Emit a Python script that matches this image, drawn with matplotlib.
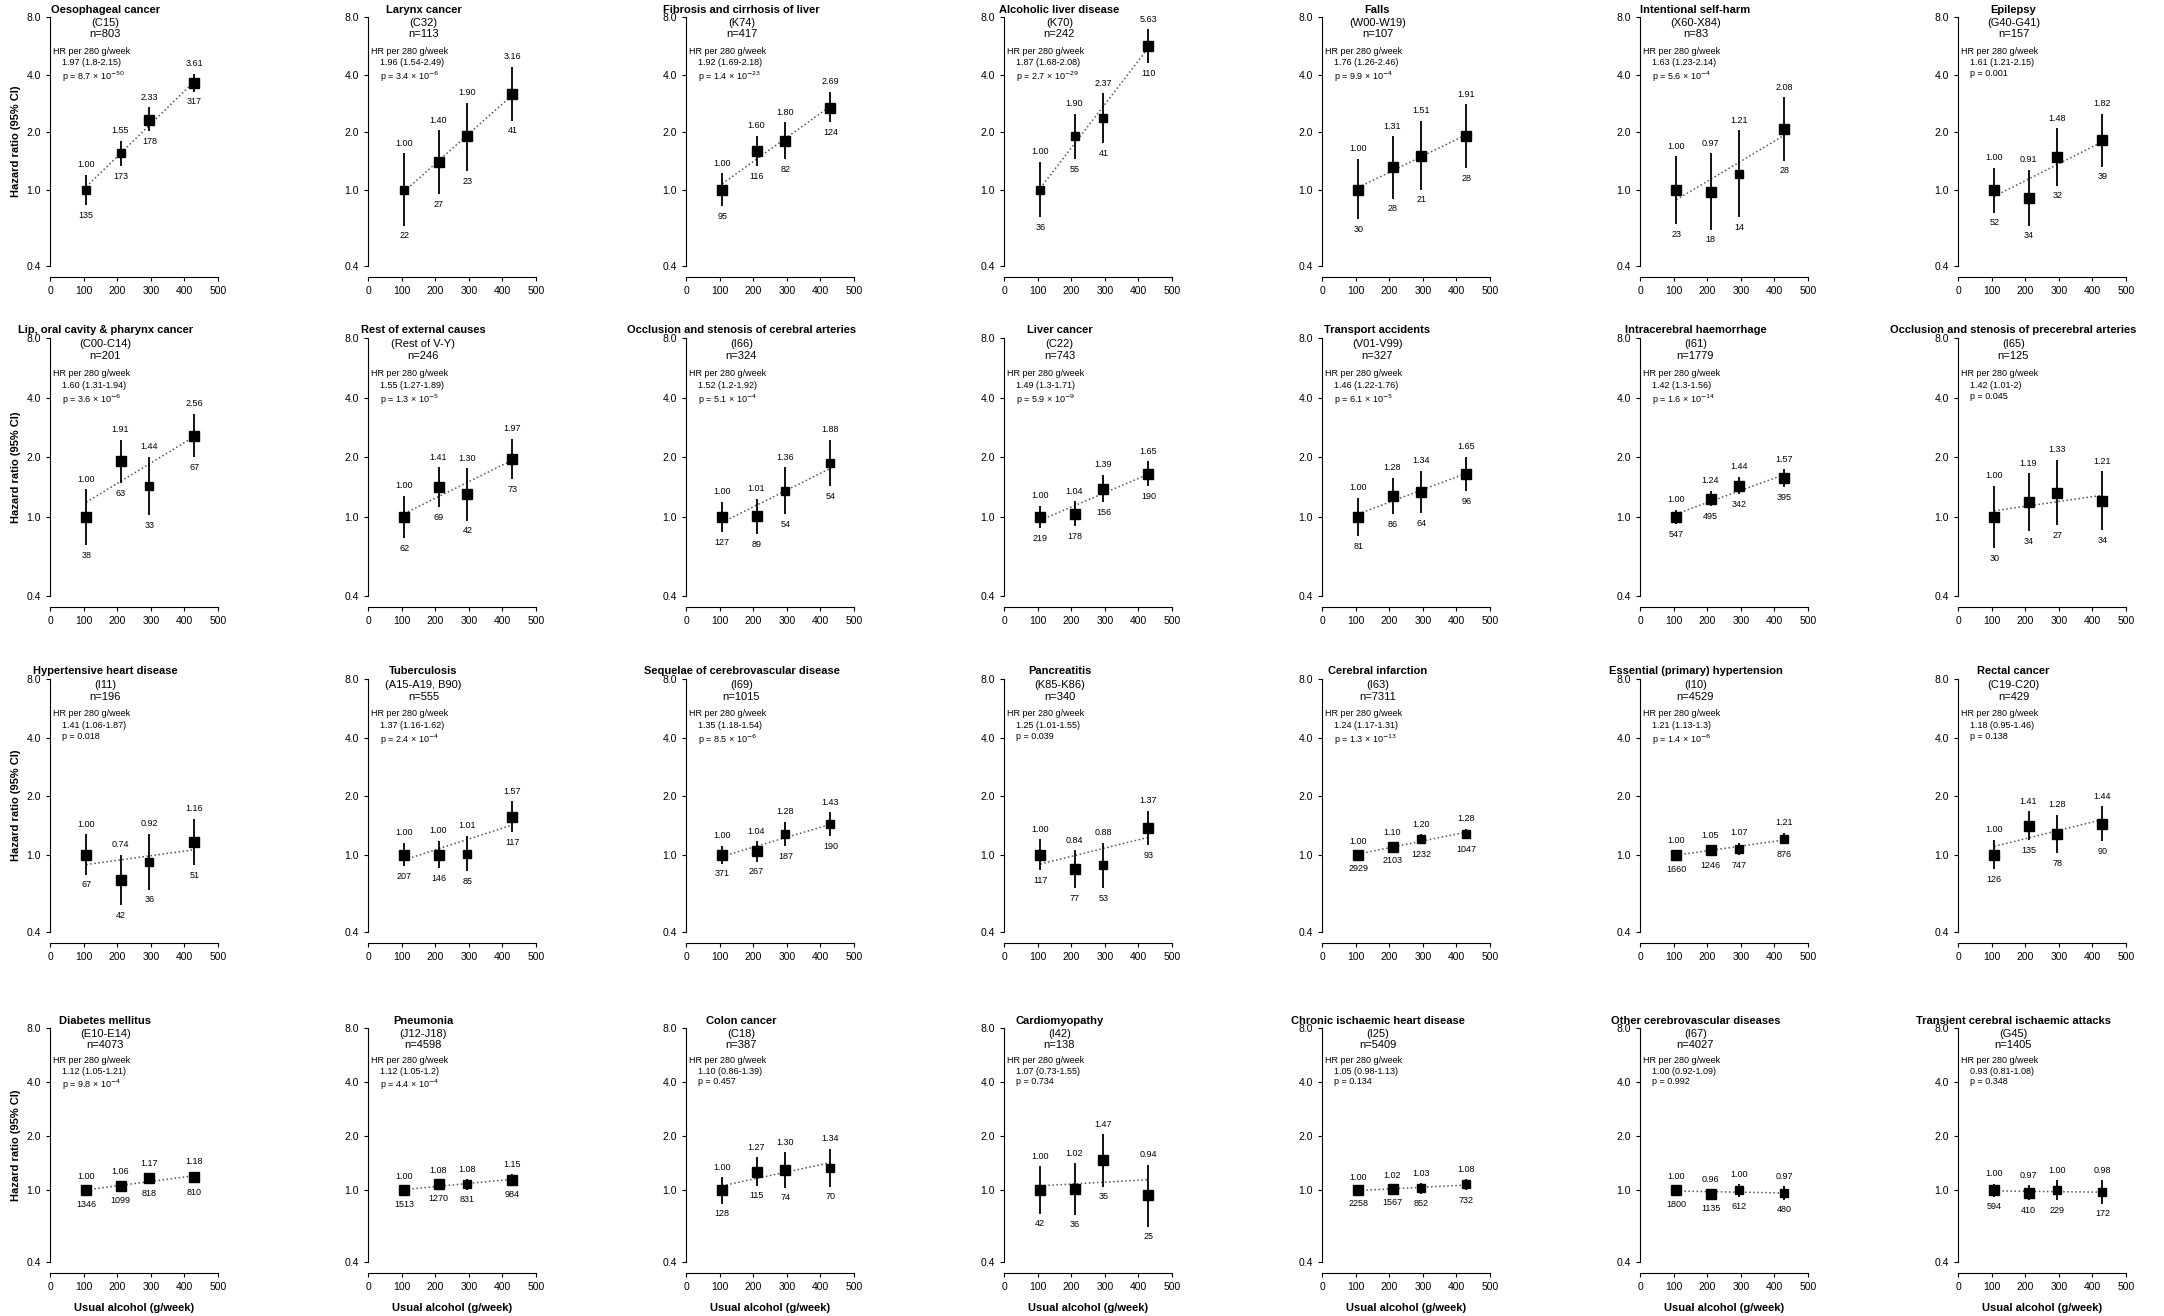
import numpy as np
import matplotlib
matplotlib.use('Agg')
import matplotlib.pyplot as plt

plt.rcParams['font.family'] = ['Liberation Sans', 'DejaVu Sans']

# x positions of the four alcohol groups (g/week)
alcohol = [108, 210, 296, 430]

titles = ['Oesophageal cancer', 'Larynx cancer', 'Fibrosis and cirrhosis of liver', 'Alcoholic liver disease',
          'Falls', 'Intentional self-harm', 'Epilepsy',
          'Lip, oral cavity & pharynx cancer', 'Rest of external causes', 'Occlusion and stenosis of cerebral arteries',
          'Liver cancer', 'Transport accidents', 'Intracerebral haemorrhage', 'Occlusion and stenosis of precerebral arteries',
          'Hypertensive heart disease', 'Tuberculosis', 'Sequelae of cerebrovascular disease', 'Pancreatitis',
          'Cerebral infarction', 'Essential (primary) hypertension', 'Rectal cancer',
          'Diabetes mellitus', 'Pneumonia', 'Colon cancer', 'Cardiomyopathy',
          'Chronic ischaemic heart disease', 'Other cerebrovascular diseases', 'Transient cerebral ischaemic attacks']

codes = ['(C15)', '(C32)', '(K74)', '(K70)', '(W00-W19)', '(X60-X84)', '(G40-G41)',
         '(C00-C14)', '(Rest of V-Y)', '(I66)', '(C22)', '(V01-V99)', '(I61)', '(I65)',
         '(I11)', '(A15-A19, B90)', '(I69)', '(K85-K86)', '(I63)', '(I10)', '(C19-C20)',
         '(E10-E14)', '(J12-J18)', '(C18)', '(I42)', '(I25)', '(I67)', '(G45)']

n_total = [803, 113, 417, 242, 107, 83, 157,
           201, 246, 324, 743, 327, 1779, 125,
           196, 555, 1015, 340, 7311, 4529, 429,
           4073, 4598, 387, 138, 5409, 4027, 1405]

hr_trend = ['1.97 (1.8-2.15)', '1.96 (1.54-2.49)', '1.92 (1.69-2.18)', '1.87 (1.68-2.08)',
            '1.76 (1.26-2.46)', '1.63 (1.23-2.14)', '1.61 (1.21-2.15)',
            '1.60 (1.31-1.94)', '1.55 (1.27-1.89)', '1.52 (1.2-1.92)', '1.49 (1.3-1.71)',
            '1.46 (1.22-1.76)', '1.42 (1.3-1.56)', '1.42 (1.01-2)',
            '1.41 (1.06-1.87)', '1.37 (1.16-1.62)', '1.35 (1.18-1.54)', '1.25 (1.01-1.55)',
            '1.24 (1.17-1.31)', '1.21 (1.13-1.3)', '1.18 (0.95-1.46)',
            '1.12 (1.05-1.21)', '1.12 (1.05-1.2)', '1.10 (0.86-1.39)', '1.07 (0.73-1.55)',
            '1.05 (0.98-1.13)', '1.00 (0.92-1.09)', '0.93 (0.81-1.08)']

p_text = [r'p = 8.7 × 10$^{-50}$', r'p = 3.4 × 10$^{-6}$', r'p = 1.4 × 10$^{-23}$', r'p = 2.7 × 10$^{-29}$',
          r'p = 9.9 × 10$^{-4}$', r'p = 5.6 × 10$^{-4}$', 'p = 0.001',
          r'p = 3.6 × 10$^{-6}$', r'p = 1.3 × 10$^{-5}$', r'p = 5.1 × 10$^{-4}$', r'p = 5.9 × 10$^{-9}$',
          r'p = 6.1 × 10$^{-5}$', r'p = 1.6 × 10$^{-14}$', 'p = 0.045',
          'p = 0.018', r'p = 2.4 × 10$^{-4}$', r'p = 8.5 × 10$^{-6}$', 'p = 0.039',
          r'p = 1.3 × 10$^{-13}$', r'p = 1.4 × 10$^{-6}$', 'p = 0.138',
          r'p = 9.8 × 10$^{-4}$', r'p = 4.4 × 10$^{-4}$', 'p = 0.457', 'p = 0.734',
          'p = 0.134', 'p = 0.992', 'p = 0.348']

hr = [[1.00, 1.55, 2.33, 3.61], [1.00, 1.40, 1.90, 3.16], [1.00, 1.60, 1.80, 2.69], [1.00, 1.90, 2.37, 5.63],
      [1.00, 1.31, 1.51, 1.91], [1.00, 0.97, 1.21, 2.08], [1.00, 0.91, 1.48, 1.82],
      [1.00, 1.91, 1.44, 2.56], [1.00, 1.41, 1.30, 1.97], [1.00, 1.01, 1.36, 1.88], [1.00, 1.04, 1.39, 1.65],
      [1.00, 1.28, 1.34, 1.65], [1.00, 1.24, 1.44, 1.57], [1.00, 1.19, 1.33, 1.21],
      [1.00, 0.74, 0.92, 1.16], [1.00, 1.00, 1.01, 1.57], [1.00, 1.04, 1.28, 1.43], [1.00, 0.84, 0.88, 1.37],
      [1.00, 1.10, 1.20, 1.28], [1.00, 1.05, 1.07, 1.21], [1.00, 1.41, 1.28, 1.44],
      [1.00, 1.06, 1.17, 1.18], [1.00, 1.08, 1.08, 1.15], [1.00, 1.27, 1.30, 1.34], [1.00, 1.02, 1.47, 0.94],
      [1.00, 1.02, 1.03, 1.08], [1.00, 0.96, 1.00, 0.97], [1.00, 0.97, 1.00, 0.98]]

counts = [[135, 173, 178, 317], [22, 27, 23, 41], [95, 116, 82, 124], [36, 55, 41, 110],
          [30, 28, 21, 28], [23, 18, 14, 28], [52, 34, 32, 39],
          [38, 63, 33, 67], [62, 69, 42, 73], [127, 89, 54, 54], [219, 178, 156, 190],
          [81, 86, 64, 96], [547, 495, 342, 395], [30, 34, 27, 34],
          [67, 42, 36, 51], [207, 146, 85, 117], [371, 267, 187, 190], [117, 77, 53, 93],
          [2929, 2103, 1232, 1047], [1660, 1246, 747, 876], [126, 135, 78, 90],
          [1346, 1099, 818, 810], [1513, 1270, 831, 984], [128, 115, 74, 70], [42, 36, 35, 25],
          [2258, 1567, 852, 732], [1800, 1135, 612, 480], [594, 410, 229, 172]]

ci_low = [[0.83, 1.33, 2.02, 3.25], [0.65, 0.95, 1.25, 2.30], [0.82, 1.33, 1.45, 2.25], [0.72, 1.45, 1.75, 4.60],
          [0.70, 0.90, 1.00, 1.30], [0.66, 0.62, 0.72, 1.42], [0.76, 0.65, 1.05, 1.32],
          [0.72, 1.48, 1.02, 2.00], [0.78, 1.12, 0.96, 1.56], [0.84, 0.82, 1.04, 1.44], [0.88, 0.90, 1.19, 1.43],
          [0.80, 1.04, 1.05, 1.35], [0.92, 1.14, 1.30, 1.42], [0.70, 0.85, 0.91, 0.86],
          [0.79, 0.55, 0.66, 0.88], [0.87, 0.85, 0.82, 1.31], [0.90, 0.92, 1.11, 1.24], [0.83, 0.67, 0.67, 1.12],
          [0.96, 1.05, 1.13, 1.20], [0.95, 0.99, 0.99, 1.13], [0.84, 1.19, 1.02, 1.17],
          [0.95, 1.00, 1.09, 1.10], [0.95, 1.02, 1.01, 1.08], [0.84, 1.06, 1.03, 1.05], [0.74, 0.73, 1.05, 0.63],
          [0.96, 0.97, 0.96, 1.00], [0.95, 0.90, 0.92, 0.89], [0.92, 0.88, 0.88, 0.84]]

ci_high = [[1.20, 1.80, 2.70, 4.05], [1.55, 2.05, 2.85, 4.40], [1.22, 1.92, 2.25, 3.25], [1.40, 2.50, 3.20, 6.90],
           [1.45, 1.90, 2.30, 2.80], [1.50, 1.55, 2.05, 3.05], [1.30, 1.27, 2.10, 2.50],
           [1.38, 2.45, 2.02, 3.30], [1.28, 1.78, 1.76, 2.48], [1.19, 1.24, 1.78, 2.46], [1.14, 1.20, 1.63, 1.91],
           [1.25, 1.58, 1.71, 2.01], [1.09, 1.35, 1.60, 1.74], [1.43, 1.66, 1.94, 1.70],
           [1.27, 1.00, 1.28, 1.53], [1.15, 1.18, 1.25, 1.88], [1.11, 1.17, 1.48, 1.65], [1.20, 1.05, 1.15, 1.68],
           [1.04, 1.15, 1.27, 1.36], [1.05, 1.11, 1.15, 1.29], [1.19, 1.67, 1.60, 1.77],
           [1.05, 1.13, 1.25, 1.27], [1.05, 1.14, 1.16, 1.23], [1.19, 1.53, 1.64, 1.71], [1.36, 1.42, 2.05, 1.39],
           [1.04, 1.07, 1.10, 1.16], [1.05, 1.02, 1.08, 1.06], [1.09, 1.07, 1.14, 1.14]]

W, H = 2164, 1316
fig = plt.figure(figsize=(W / 100, H / 100), dpi=100)
row_top = [17, 338, 679, 1028]
row_h = [249, 258, 253, 234]
fs = 7.5

for i in range(28):
    r, c = divmod(i, 7)
    left = 50 + c * 318
    top = row_top[r]
    ax = fig.add_axes([left / W, 1 - (top + row_h[r]) / H, 168 / W, row_h[r] / H])
    ax.set_yscale('log')
    ax.set_ylim(0.4, 8.0)
    ax.set_xlim(0, 500)
    ax.set_yticks([0.4, 1, 2, 4, 8])
    ax.set_yticklabels(['0.4', '1.0', '2.0', '4.0', '8.0'])
    ax.minorticks_off()
    ax.set_xticks(range(0, 501, 100))
    ax.tick_params(labelsize=fs, length=3, width=0.8)
    ax.spines['top'].set_visible(False)
    ax.spines['right'].set_visible(False)
    ax.spines['bottom'].set_position(('outward', 8))

    x = np.array(alcohol, dtype=float)
    y = np.array(hr[i])
    lo = np.array(ci_low[i])
    hi = np.array(ci_high[i])
    cnt = np.array(counts[i], dtype=float)

    # weighted fit of log HR against alcohol for the dotted trend line
    coef = np.polyfit(x, np.log(y), 1, w=np.sqrt(cnt))
    xs = np.array([x[0], x[-1]])
    ax.plot(xs, np.exp(np.polyval(coef, xs)), ':', color='#555555', lw=1.1, zorder=1)

    ax.vlines(x, lo, hi, color='black', lw=1.3, zorder=2)
    sizes = 3.5 + 4 * np.sqrt(cnt / cnt.max())
    for xi, yi, si in zip(x, y, sizes):
        ax.plot(xi, yi, 's', color='black', ms=si, zorder=3)
    for xi, yi, l, h, nn in zip(x, y, lo, hi, counts[i]):
        ax.text(xi, h * 1.07, f'{yi:.2f}', ha='center', va='bottom', fontsize=6.5)
        ax.text(xi, l / 1.07, str(nn), ha='center', va='top', fontsize=6.5)

    ax.text(0.33, 1.01, titles[i], transform=ax.transAxes, ha='center', va='bottom',
            fontsize=fs + 0.5, fontweight='bold')
    ax.text(0.33, 0.995, codes[i], transform=ax.transAxes, ha='center', va='top', fontsize=fs + 0.5)
    ax.text(0.33, 0.95, f'n={n_total[i]}', transform=ax.transAxes, ha='center', va='top', fontsize=fs + 0.5)
    ax.text(0.02, 0.88, 'HR per 280 g/week', transform=ax.transAxes, ha='left', va='top', fontsize=6.5)
    ax.text(0.07, 0.835, hr_trend[i], transform=ax.transAxes, ha='left', va='top', fontsize=6.5)
    ax.text(0.07, 0.79, p_text[i], transform=ax.transAxes, ha='left', va='top', fontsize=6.5)

    if c == 0:
        ax.set_ylabel('Hazard ratio (95% CI)', fontsize=fs + 0.5, fontweight='bold')
    if r == 3:
        ax.set_xlabel('Usual alcohol (g/week)', fontsize=fs + 0.5, fontweight='bold', labelpad=8)

fig.savefig('out.png', dpi=100)
